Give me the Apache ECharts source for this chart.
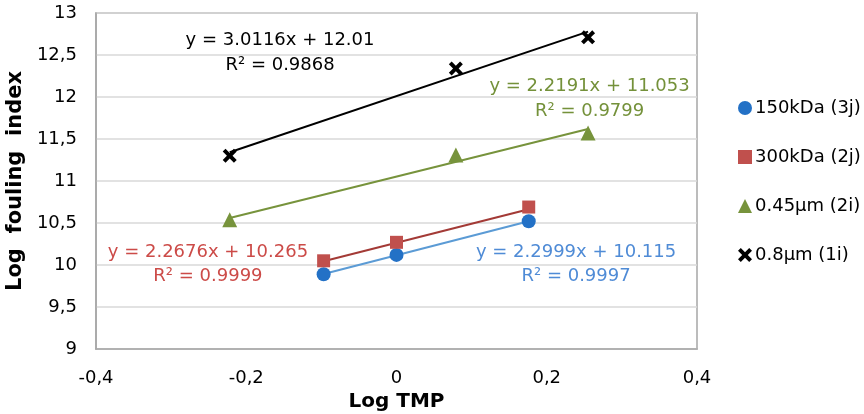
<!DOCTYPE html>
<html>
<head>
<meta charset="utf-8">
<style>
  html, body { margin: 0; padding: 0; background: #fff; }
  #chart { width: 864px; height: 414px; }
</style>
<script src="https://cdn.jsdelivr.net/npm/echarts@6/dist/echarts.min.js"></script>
</head>
<body>
<div id="chart"></div>
<script>
// Measured points (log TMP, log fouling index)
const seriesNames = ['150kDa (3j)', '300kDa (2j)', '0.45µm (2i)', '0.8µm (1i)'];
const x150 = [-0.097, 0.0, 0.176];
const y150 = [9.89, 10.12, 10.52];
const x300 = [-0.097, 0.0, 0.176];
const y300 = [10.05, 10.27, 10.69];
const x045 = [-0.222, 0.079, 0.255];
const y045 = [10.54, 11.31, 11.57];
const x08 = [-0.222, 0.079, 0.255];
const y08 = [11.30, 12.34, 12.71];

// Linear fits: slope, intercept, R²
const slopes = [2.2999, 2.2676, 2.2191, 3.0116];
const intercepts = [10.115, 10.265, 11.053, 12.01];
const r2 = ['0.9997', '0.9999', '0.9799', '0.9868'];
const eqTexts = ['y = 2.2999x + 10.115', 'y = 2.2676x + 10.265', 'y = 2.2191x + 11.053', 'y = 3.0116x + 12.01'];
// Where each equation block sits, in data units [x, y of first line, y of second line]
const eqAnchors = [[0.239, 10.155, 9.87], [-0.251, 10.155, 9.87], [0.257, 12.13, 11.83], [-0.155, 12.68, 12.38]];

const xTicks = [-0.4, -0.2, 0, 0.2, 0.4];
const yTicks = [9, 9.5, 10, 10.5, 11, 11.5, 12, 12.5, 13];

const markerColors = ['#2371C6', '#C0504D', '#77933C', '#000000'];
const lineColors = ['#5B9BD5', '#A33A36', '#77933C', '#000000'];
const textColors = ['#4F8BD6', '#CC4B48', '#74913A', '#000000'];
const crossPath = 'path://M2,0 L5,3 L8,0 L10,2 L7,5 L10,8 L8,10 L5,7 L2,10 L0,8 L3,5 L0,2 Z';
const symbols = ['circle', 'rect', 'triangle', crossPath];
const symbolSizes = [14, 13, 15, 14];

const xs = [x150, x300, x045, x08];
const ys = [y150, y300, y045, y08];

const font = 'DejaVu Sans, sans-serif';

const series = [];
// trendlines first so markers sit on top
xs.forEach((xv, i) => {
  const x0 = Math.min(...xv), x1 = Math.max(...xv);
  series.push({
    name: 'fit' + i,
    type: 'line',
    data: [[x0, intercepts[i] + slopes[i] * x0], [x1, intercepts[i] + slopes[i] * x1]],
    symbol: 'none',
    lineStyle: { color: lineColors[i], width: 2 },
    silent: true,
    z: 2
  });
});
xs.forEach((xv, i) => {
  series.push({
    name: seriesNames[i],
    type: 'scatter',
    data: xv.map((x, k) => [x, ys[i][k]]),
    symbol: symbols[i],
    symbolSize: symbolSizes[i],
    itemStyle: { color: markerColors[i], opacity: 1 },
    z: 3
  });
});
// equation labels, anchored in data space
eqAnchors.forEach((a, i) => {
  series.push({
    name: 'eq' + i,
    type: 'scatter',
    data: [
      { value: [a[0], a[1]], label: { formatter: eqTexts[i] } },
      { value: [a[0], a[2]], label: { formatter: 'R² = ' + r2[i] } }
    ],
    symbolSize: 0,
    silent: true,
    itemStyle: { opacity: 1 },
    label: {
      show: true, position: 'inside', color: textColors[i],
      fontFamily: font, fontSize: 18, textBorderWidth: 0
    },
    z: 4
  });
});

const chart = echarts.init(document.getElementById('chart'));
chart.setOption({
  animation: false,
  backgroundColor: '#fff',
  grid: {
    left: 96, right: 167, top: 13, bottom: 65,
    show: true, borderColor: '#a6a6a6', borderWidth: 1.5,
    containLabel: false, outerBoundsMode: 'none'
  },
  legend: {
    orient: 'vertical', left: 733, top: 94, itemGap: 31, itemWidth: 14, itemHeight: 14,
    data: seriesNames.map((n, i) => ({ name: n, icon: symbols[i] })),
    textStyle: { fontFamily: font, fontSize: 18, color: '#000', padding: [0, 0, 0, -2] }
  },
  xAxis: {
    type: 'value', min: -0.4, max: 0.4, interval: 0.2,
    name: 'Log TMP', nameLocation: 'middle', nameGap: 40,
    nameTextStyle: { fontFamily: font, fontSize: 20, fontWeight: 'bold', color: '#000' },
    axisLine: { show: true, onZero: false, lineStyle: { color: '#a6a6a6', width: 1.5 } },
    axisTick: { show: false },
    splitLine: { show: false },
    axisLabel: {
      fontFamily: font, fontSize: 18, color: '#000', margin: 20,
      formatter: v => { const t = xTicks.find(k => Math.abs(k - v) < 1e-9); return t === undefined ? '' : String(t).replace('.', ','); }
    }
  },
  yAxis: {
    type: 'value', min: 9, max: 13, interval: 0.5,
    name: 'Log  fouling  index', nameLocation: 'middle', nameGap: 68,
    nameTextStyle: { fontFamily: font, fontSize: 21, fontWeight: 'bold', color: '#000' },
    axisLine: { show: true, onZero: false, lineStyle: { color: '#a6a6a6', width: 1.5 } },
    axisTick: { show: false },
    splitLine: { show: true, lineStyle: { color: '#d9d9d9', width: 1.5 } },
    axisLabel: {
      fontFamily: font, fontSize: 18, color: '#000', margin: 19,
      formatter: v => { const t = yTicks.find(k => Math.abs(k - v) < 1e-9); return t === undefined ? '' : String(t).replace('.', ','); }
    }
  },
  series: series
});
</script>
</body>
</html>
